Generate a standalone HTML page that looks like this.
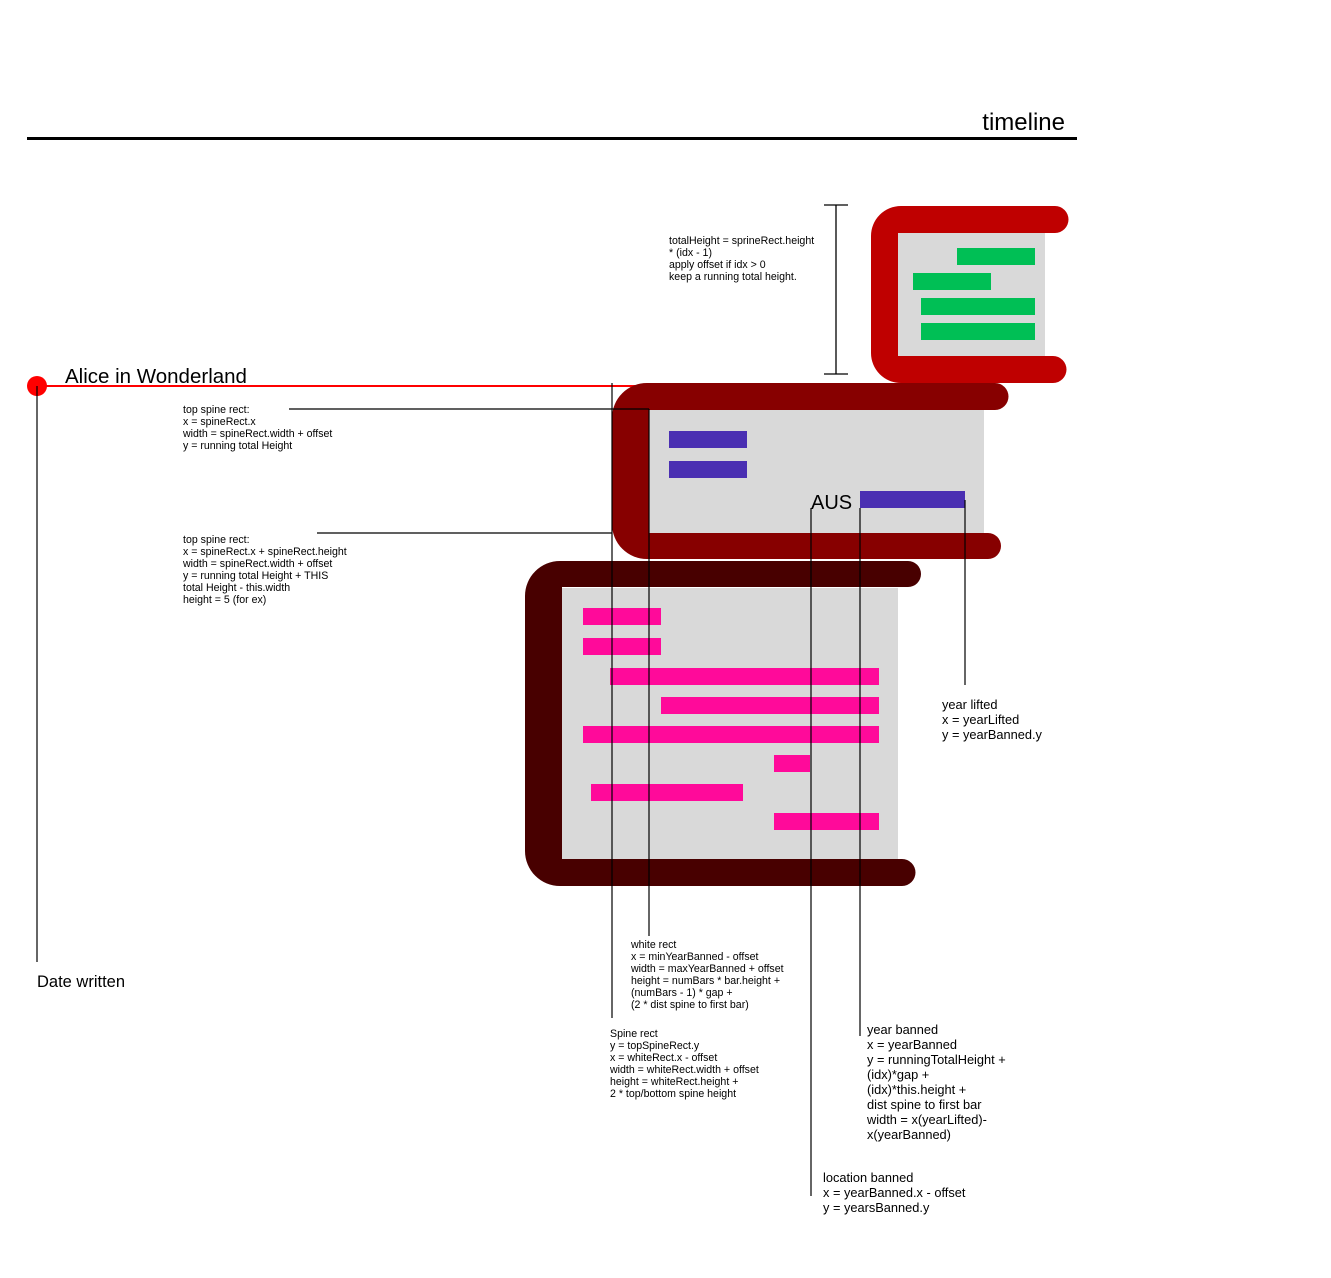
<!DOCTYPE html>
<html><head><meta charset="utf-8"><style>
html,body{margin:0;padding:0;background:#fff}
svg{display:block}
text{font-family:"Liberation Sans",sans-serif;fill:#000}
.s{font-size:10.6px}
.m{font-size:12.8px}
</style></head><body>
<svg width="1331" height="1278" viewBox="0 0 1331 1278" xmlns="http://www.w3.org/2000/svg">
<rect width="1331" height="1278" fill="#fff"/>
<text x="1065" y="130" font-size="24" text-anchor="end">timeline</text>
<rect x="27" y="137" width="1050" height="3" fill="#000"/>

<rect x="898" y="233" width="147" height="123" fill="#d9d9d9"/>
<path d="M900,206 H1055 a13,13 0 0 1 0,27 H898 V356 H1053 a13,13 0 0 1 0,27 H901 a30,30 0 0 1 -30,-30 V236 a30,30 0 0 1 30,-30 Z" fill="#bf0000"/>
<g fill="#00bf55">
<rect x="957" y="248" width="78" height="17"/>
<rect x="913" y="273" width="78" height="17"/>
<rect x="921" y="298" width="114" height="17"/>
<rect x="921" y="323" width="114" height="17"/>
</g>

<g stroke="#000" stroke-width="1.3">
<line x1="836" y1="205" x2="836" y2="374"/>
<line x1="824" y1="205" x2="848" y2="205"/>
<line x1="824" y1="374" x2="848" y2="374"/>
</g>
<text class="s"><tspan x="669" y="244">totalHeight = sprineRect.height</tspan><tspan x="669" y="256">* (idx - 1)</tspan><tspan x="669" y="268">apply offset if idx &gt; 0</tspan><tspan x="669" y="280">keep a running total height.</tspan></text>

<rect x="37" y="385" width="600" height="2" fill="#ff0000"/>
<circle cx="37" cy="386" r="10" fill="#ff0000"/>
<text x="65" y="383" font-size="20.5">Alice in Wonderland</text>

<rect x="649" y="410" width="335" height="123" fill="#d9d9d9"/>
<path d="M647,383 H995 a13,13 0 0 1 0,27 H649 V533 H988 a13,13 0 0 1 0,26 H647 a35,35 0 0 1 -35,-35 V418 a35,35 0 0 1 35,-35 Z" fill="#870000"/>
<g fill="#4a2fb2">
<rect x="669" y="431" width="78" height="17"/>
<rect x="669" y="461" width="78" height="17"/>
<rect x="860" y="491" width="105" height="17"/>
</g>
<text x="811" y="509" font-size="20">AUS</text>

<rect x="562" y="588" width="336" height="271" fill="#d9d9d9"/>
<path d="M560,561 H908 a13,13 0 0 1 0,26 H562 V859 H902 a13,13 0 0 1 0,27 H560 a35,35 0 0 1 -35,-35 V596 a35,35 0 0 1 35,-35 Z" fill="#480000"/>
<g fill="#ff0a9a">
<rect x="583" y="608" width="78" height="17"/>
<rect x="583" y="638" width="78" height="17"/>
<rect x="610" y="668" width="269" height="17"/>
<rect x="661" y="697" width="218" height="17"/>
<rect x="583" y="726" width="296" height="17"/>
<rect x="774" y="755" width="36" height="17"/>
<rect x="591" y="784" width="152" height="17"/>
<rect x="774" y="813" width="105" height="17"/>
</g>

<g stroke="#000" stroke-width="1.2">
<line x1="37" y1="386" x2="37" y2="962"/>
<line x1="289" y1="409" x2="649" y2="409"/>
<line x1="649" y1="409" x2="649" y2="936"/>
<line x1="317" y1="533" x2="612" y2="533"/>
<line x1="612" y1="383" x2="612" y2="1018"/>
<line x1="811" y1="508" x2="811" y2="1196"/>
<line x1="860" y1="508" x2="860" y2="1036"/>
<line x1="965" y1="500" x2="965" y2="685"/>
</g>

<text x="37" y="987" font-size="16.5">Date written</text>

<text class="s"><tspan x="183" y="413">top spine rect:</tspan><tspan x="183" y="425">x = spineRect.x</tspan><tspan x="183" y="437">width = spineRect.width + offset</tspan><tspan x="183" y="449">y = running total Height</tspan></text>
<text class="s"><tspan x="183" y="543">top spine rect:</tspan><tspan x="183" y="555">x = spineRect.x + spineRect.height</tspan><tspan x="183" y="567">width = spineRect.width + offset</tspan><tspan x="183" y="579">y = running total Height + THIS</tspan><tspan x="183" y="591">total Height - this.width</tspan><tspan x="183" y="603">height = 5 (for ex)</tspan></text>

<text class="s"><tspan x="631" y="948">white rect</tspan><tspan x="631" y="960">x = minYearBanned - offset</tspan><tspan x="631" y="972">width = maxYearBanned + offset</tspan><tspan x="631" y="984">height = numBars * bar.height +</tspan><tspan x="631" y="996">(numBars - 1) * gap +</tspan><tspan x="631" y="1008">(2 * dist spine to first bar)</tspan></text>

<text class="s"><tspan x="610" y="1037">Spine rect</tspan><tspan x="610" y="1049">y = topSpineRect.y</tspan><tspan x="610" y="1061">x = whiteRect.x - offset</tspan><tspan x="610" y="1073">width = whiteRect.width + offset</tspan><tspan x="610" y="1085">height = whiteRect.height +</tspan><tspan x="610" y="1097">2 * top/bottom spine height</tspan></text>

<text class="m"><tspan x="942" y="709">year lifted</tspan><tspan x="942" y="724">x = yearLifted</tspan><tspan x="942" y="739">y = yearBanned.y</tspan></text>

<text class="m"><tspan x="867" y="1034">year banned</tspan><tspan x="867" y="1049">x = yearBanned</tspan><tspan x="867" y="1064">y = runningTotalHeight +</tspan><tspan x="867" y="1079">(idx)*gap +</tspan><tspan x="867" y="1094">(idx)*this.height +</tspan><tspan x="867" y="1109">dist spine to first bar</tspan><tspan x="867" y="1124">width = x(yearLifted)-</tspan><tspan x="867" y="1139">x(yearBanned)</tspan></text>

<text class="m"><tspan x="823" y="1182">location banned</tspan><tspan x="823" y="1197">x = yearBanned.x - offset</tspan><tspan x="823" y="1212">y = yearsBanned.y</tspan></text>
</svg>
</body></html>
